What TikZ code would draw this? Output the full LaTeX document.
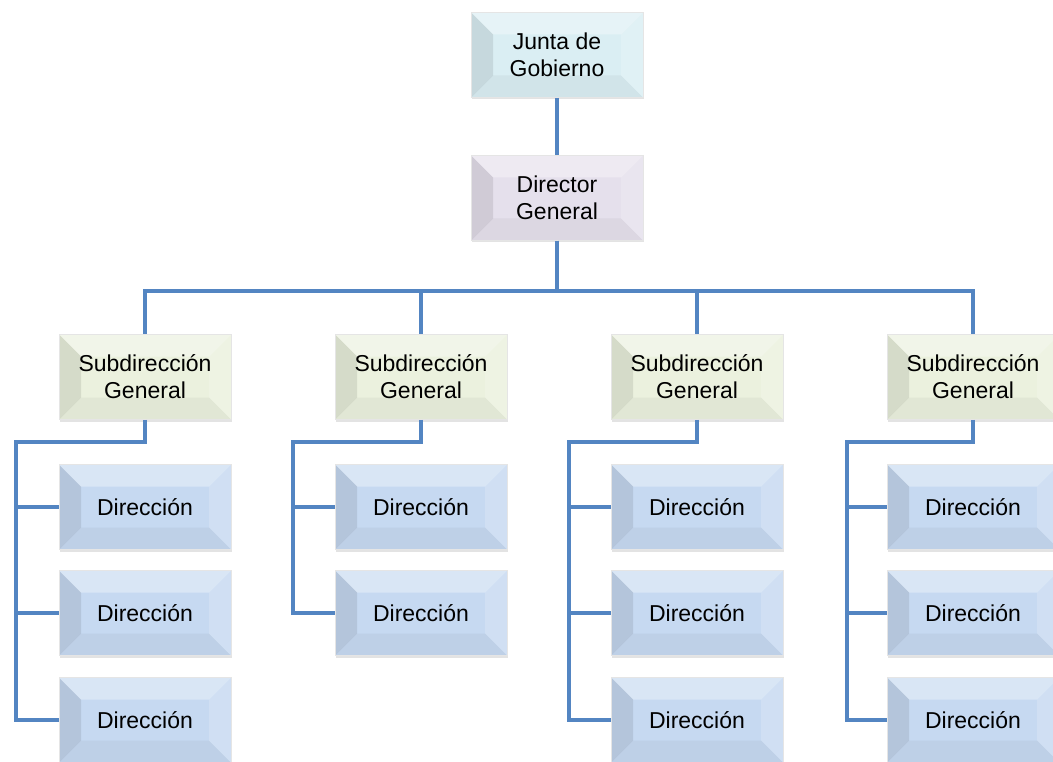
\documentclass[tikz,border=0pt]{standalone}
\usepackage{fontspec}
\setmainfont{Liberation Sans}
\usetikzlibrary{calc,shadows}

\definecolor{juntacol}{HTML}{DAEEF3}
\definecolor{dircol}{HTML}{E5E0EC}
\definecolor{subcol}{HTML}{EBF1DE}
\definecolor{direccol}{HTML}{C6D9F1}
\definecolor{conncol}{HTML}{5385C2}

\tikzset{
	bevel/.style={path picture={
		\coordinate (pnw) at (path picture bounding box.north west);
		\coordinate (pne) at (path picture bounding box.north east);
		\coordinate (psw) at (path picture bounding box.south west);
		\coordinate (pse) at (path picture bounding box.south east);
		\fill[white,opacity=.35] (pnw) -- (pne) -- ([shift={(-22pt,-22pt)}]pne) -- ([shift={(22pt,-22pt)}]pnw) -- cycle;
		\fill[black,opacity=.09] (pnw) -- ([shift={(22pt,-22pt)}]pnw) -- ([shift={(22pt,22pt)}]psw) -- (psw) -- cycle;
		\fill[black,opacity=.04] (psw) -- ([shift={(22pt,22pt)}]psw) -- ([shift={(-22pt,22pt)}]pse) -- (pse) -- cycle;
		\fill[white,opacity=.18] (pne) -- (pse) -- ([shift={(-22pt,22pt)}]pse) -- ([shift={(-22pt,-22pt)}]pne) -- cycle;
	}},
	box/.style={draw=black!10, line width=.6pt, minimum width=172, minimum height=85,
		inner sep=0pt, align=center, font=\fontsize{23}{27}\selectfont, bevel,
		drop shadow={opacity=.22, shadow xshift=1pt, shadow yshift=-2pt}},
	conn/.style={draw=conncol, line width=4pt},
}

\begin{document}
\begin{tikzpicture}[x=1pt,y=-1pt]
	\useasboundingbox (0,0) rectangle (1053,762);

	% top
	\node[box,fill=juntacol] (jg) at (557,55) {Junta de\\Gobierno};
	\node[box,fill=dircol] (dg) at (557,198) {Director\\General};

	% subdirecciones
	\node[box,fill=subcol] (sg1) at (145,377) {Subdirección\\General};
	\node[box,fill=subcol] (sg2) at (421,377) {Subdirección\\General};
	\node[box,fill=subcol] (sg3) at (697,377) {Subdirección\\General};
	\node[box,fill=subcol] (sg4) at (973,377) {Subdirección\\General};

	% direcciones
	\node[box,fill=direccol] (d11) at (145,507) {Dirección};
	\node[box,fill=direccol] (d12) at (145,613) {Dirección};
	\node[box,fill=direccol] (d13) at (145,720) {Dirección};
	\node[box,fill=direccol] (d21) at (421,507) {Dirección};
	\node[box,fill=direccol] (d22) at (421,613) {Dirección};
	\node[box,fill=direccol] (d31) at (697,507) {Dirección};
	\node[box,fill=direccol] (d32) at (697,613) {Dirección};
	\node[box,fill=direccol] (d33) at (697,720) {Dirección};
	\node[box,fill=direccol] (d41) at (973,507) {Dirección};
	\node[box,fill=direccol] (d42) at (973,613) {Dirección};
	\node[box,fill=direccol] (d43) at (973,720) {Dirección};

	% lines
	\draw[conn] (jg) -- (dg);
	\draw[conn] (dg.south) -- ++(0,50) -| (sg1.north);
	\draw[conn] (dg.south) -- ++(0,50) -| (sg2.north);
	\draw[conn] (dg.south) -- ++(0,50) -| (sg3.north);
	\draw[conn] (dg.south) -- ++(0,50) -| (sg4.north);

	\draw[conn] (sg1.south) -- ++(0,22) -| ([xshift=-43pt]d13.west) -- (d13.west);
	\draw[conn] (d11.west) -- ++(-43,0);
	\draw[conn] (d12.west) -- ++(-43,0);

	\draw[conn] (sg2.south) -- ++(0,22) -| ([xshift=-42pt]d22.west) -- (d22.west);
	\draw[conn] (d21.west) -- ++(-42,0);

	\draw[conn] (sg3.south) -- ++(0,22) -| ([xshift=-42pt]d33.west) -- (d33.west);
	\draw[conn] (d31.west) -- ++(-42,0);
	\draw[conn] (d32.west) -- ++(-42,0);

	\draw[conn] (sg4.south) -- ++(0,22) -| ([xshift=-40pt]d43.west) -- (d43.west);
	\draw[conn] (d41.west) -- ++(-40,0);
	\draw[conn] (d42.west) -- ++(-40,0);
\end{tikzpicture}
\end{document}
